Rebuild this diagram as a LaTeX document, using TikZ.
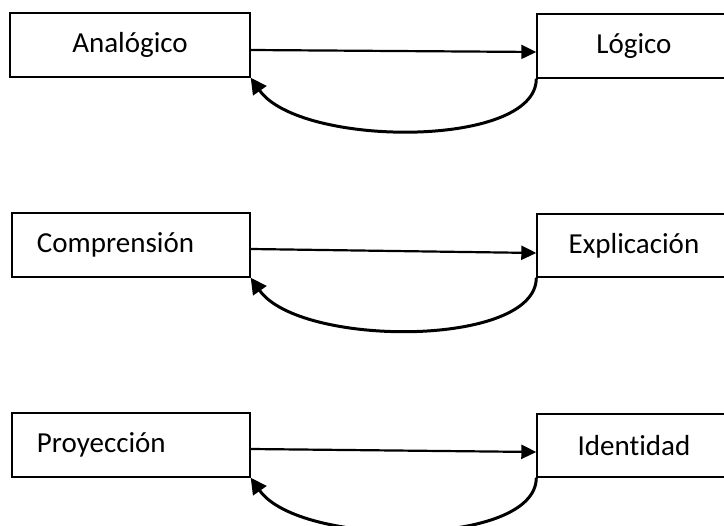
\documentclass[tikz,border=0pt]{standalone}
\usepackage{fontspec}
\setmainfont{Carlito}[Ligatures=NoCommon]
\usetikzlibrary{arrows.meta}

\begin{document}
\begin{tikzpicture}[x=1pt, y=1pt, arrow/.style = {line width=2.2pt,-{Triangle[length=15pt,width=14pt]}}, back/.style = {line width=3pt,-{Triangle[length=16pt,width=16pt]}}]
		\tikzset{box/.style={draw,rectangle,inner sep=0pt,line width=1.4pt,minimum height=64pt,font=\fontsize{29}{35}\selectfont}}
		\clip (0,0) rectangle (724,-526);

		\node[box, minimum width=240pt, text centered] (analogico) at (130,-45) {Analógico};
		\node[box, minimum width=194pt, text centered] (logico) at (634,-46) {Lógico};

		\node[box, minimum width=238pt, text width=188pt, align=left] (comprension) at (131,-245) {Comprensión};
		\node[box, minimum width=194pt, minimum height=63pt, text centered] (explicacion) at (634,-245.5) {Explicación};

		\node[box, minimum width=238pt, text width=188pt, align=left] (proyeccion) at (131,-445) {Proyección};
		\node[box, minimum width=194pt, minimum height=63pt, text centered] (identidad) at (634,-445.5) {Identidad};

		\draw [arrow] ([yshift=-5pt]analogico.east) -- ([yshift=-6pt]logico.west);
		\draw [arrow] ([yshift=-4pt]comprension.east) -- ([yshift=-7.5pt]explicacion.west);
		\draw [arrow] ([yshift=-4pt]proyeccion.east) -- ([yshift=-6.5pt]identidad.west);

		\draw [back] (logico.south west) .. controls +(0,-70) and +(-55:85pt) .. (analogico.south east);
		\draw [back] (explicacion.south west) .. controls +(0,-70) and +(-55:85pt) .. (comprension.south east);
		\draw [back] (identidad.south west) .. controls +(0,-70) and +(-55:85pt) .. (proyeccion.south east);

	\end{tikzpicture}
\end{document}
